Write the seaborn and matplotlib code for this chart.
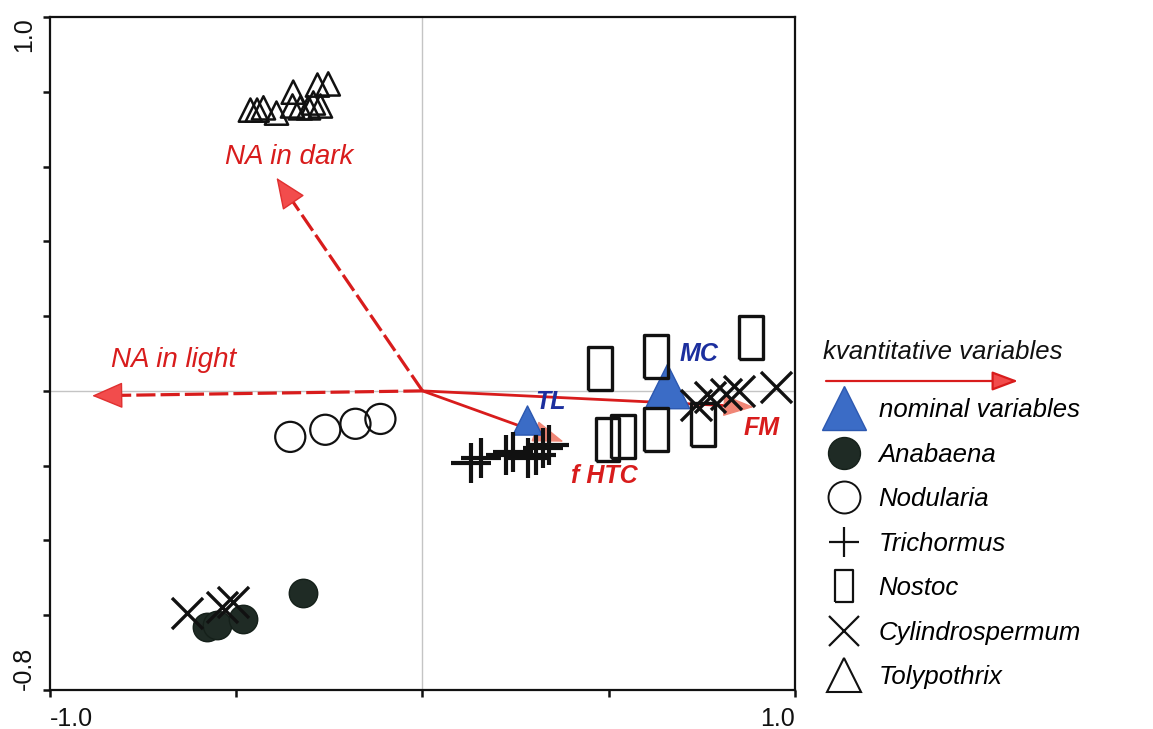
import numpy as np
import matplotlib
matplotlib.use("Agg")
import matplotlib.pyplot as plt
import seaborn as sns
from matplotlib.lines import Line2D

# ---------------- data ----------------
anabaena_x = [-0.578, -0.551, -0.481, -0.320]
anabaena_y = [-0.631, -0.626, -0.610, -0.540]
nodularia_x = [-0.355, -0.261, -0.180, -0.113]
nodularia_y = [-0.123, -0.104, -0.088, -0.075]
trichormus_x = [0.129, 0.156, 0.223, 0.242, 0.282, 0.304, 0.323, 0.339]
trichormus_y = [-0.193, -0.179, -0.171, -0.163, -0.179, -0.171, -0.152, -0.144]
nostoc_x = [0.476, 0.626, 0.882, 0.497, 0.538, 0.626, 0.753]
nostoc_y = [0.061, 0.091, 0.142, -0.131, -0.123, -0.104, -0.091]
cylindro_x = [-0.632, -0.538, -0.508, 0.734, 0.772, 0.815, 0.850, 0.949]
cylindro_y = [-0.594, -0.578, -0.564, -0.037, -0.016, -0.008, 0.000, 0.011]
tolypo_x = [-0.462, -0.444, -0.427, -0.392, -0.347, -0.349, -0.328, -0.306,
            -0.282, -0.253, -0.293, -0.274]
tolypo_y = [0.751, 0.751, 0.757, 0.743, 0.799, 0.762, 0.757, 0.757,
            0.818, 0.821, 0.770, 0.762]

quant_names = ["NA in dark", "NA in light", "f HTC", "FM"]
quant_x = [-0.392, -0.887, 0.379, 0.890]
quant_y = [0.570, -0.013, -0.136, -0.043]
quant_dashed = [True, True, False, False]
quant_label_x = [-0.358, -0.669, 0.487, 0.911]
quant_label_y = [0.626, 0.083, -0.227, -0.099]

nominal_names = ["TL", "MC"]
nominal_x = [0.280, 0.656]
nominal_y = [-0.078, 0.013]
nominal_sizes = [441, 1024]
nominal_label_x = [0.344, 0.742]
nominal_label_y = [-0.029, 0.099]

x_ticks = [-1.0, -0.5, 0.0, 0.5, 1.0]
x_ticklabels = ["-1.0", "", "", "", "1.0"]
y_ticks = [-0.8, -0.6, -0.4, -0.2, 0.0, 0.2, 0.4, 0.6, 0.8, 1.0]
y_ticklabels = ["-0.8", "", "", "", "", "", "", "", "", "1.0"]

legend_labels = ["nominal variables", "Anabaena", "Nodularia", "Trichormus",
                 "Nostoc", "Cylindrospermum", "Tolypothrix"]
quant_legend_label = "kvantitative variables"

# ---------------- style ----------------
sns.set_style("white")
plt.rcParams["font.family"] = ["Liberation Sans", "DejaVu Sans"]
plt.rcParams["text.color"] = "black"
plt.rcParams["xtick.color"] = "black"
plt.rcParams["ytick.color"] = "black"

RED = "#d81c1c"
RED_HEAD = "#f24c4c"
SALMON = "#f08676"
BLUE = "#3b6cc6"
BLUE_EDGE = "#2c58b0"
DARKBLUE = "#1c2f9e"
BLACK = "#111111"
DARKFILL = "#1f2b25"

rect_marker = [(-0.55, -1), (0.55, -1), (0.55, 1), (-0.55, 1), (-0.55, -1)]

fig = plt.figure(figsize=(11.53, 7.29), dpi=100)
ax = fig.add_axes([50 / 1153, 39 / 729, 745 / 1153, 673 / 729])

ax.set_xlim(-1.0, 1.0)
ax.set_ylim(-0.8, 1.0)

ax.axhline(0, color="#c4c4c4", lw=1.0, zorder=1)
ax.axvline(0, color="#c4c4c4", lw=1.0, zorder=1)

# ---------------- quantitative arrows ----------------
for name, tx, ty, dashed, lx, ly in zip(quant_names, quant_x, quant_y,
                                          quant_dashed, quant_label_x, quant_label_y):
    if dashed:
        ax.plot([0, tx * 0.96], [0, ty * 0.96], color=RED, lw=2.3,
                linestyle=(0, (6, 1.6)), zorder=2, solid_capstyle="butt")
        fc, ec = RED_HEAD, "#e03030"
        hl, hw = 2.0, 0.85
    else:
        ax.plot([0, tx * 0.96], [0, ty * 0.96], color=RED, lw=2.0, zorder=2)
        fc, ec = SALMON, SALMON
        hl, hw = 2.0, 0.7
    ax.annotate("", xy=(tx, ty), xytext=(tx * 0.97, ty * 0.97),
                arrowprops=dict(arrowstyle=f"-|>,head_length={hl},head_width={hw}",
                                fc=fc, ec=ec, lw=1.0, shrinkA=0, shrinkB=0,
                                mutation_scale=10),
                zorder=2.5)
    if dashed:
        ax.text(lx, ly, name, color=RED, fontsize=20, fontstyle="italic",
                ha="center", va="center", zorder=6)
    else:
        ax.text(lx, ly, name, color=RED, fontsize=18, fontstyle="italic",
                fontweight="bold", ha="center", va="center", zorder=6)

# ---------------- nominal variables ----------------
for name, nx, ny, ns, lx, ly in zip(nominal_names, nominal_x, nominal_y,
                                     nominal_sizes, nominal_label_x, nominal_label_y):
    sns.scatterplot(x=[nx], y=[ny], ax=ax, marker="^", s=ns, color=BLUE,
                    edgecolor=BLUE_EDGE, linewidth=1.0, legend=False, zorder=3)
    ax.text(lx, ly, name, color=DARKBLUE, fontsize=18, fontstyle="italic",
            fontweight="bold", ha="center", va="center", zorder=6)

# ---------------- species ----------------
sns.scatterplot(x=tolypo_x, y=tolypo_y, ax=ax, marker="^", s=280,
                facecolor="none", edgecolor=BLACK, linewidth=1.8,
                legend=False, zorder=4)
sns.scatterplot(x=nodularia_x, y=nodularia_y, ax=ax, marker="o", s=470,
                facecolor="none", edgecolor=BLACK, linewidth=1.6,
                legend=False, zorder=4)
sns.scatterplot(x=anabaena_x, y=anabaena_y, ax=ax, marker="o", s=420,
                color=DARKFILL, edgecolor="#15201a", linewidth=1.0,
                legend=False, zorder=4)
sns.scatterplot(x=trichormus_x, y=trichormus_y, ax=ax, marker="+", s=850,
                color=BLACK, linewidth=3.0, legend=False, zorder=4)
sns.scatterplot(x=nostoc_x, y=nostoc_y, ax=ax, marker=rect_marker, s=960,
                facecolor="none", edgecolor=BLACK, linewidth=2.4,
                legend=False, zorder=4)
sns.scatterplot(x=cylindro_x, y=cylindro_y, ax=ax, marker="x", s=500,
                color=BLACK, linewidth=2.4, legend=False, zorder=4)

# ---------------- axes styling ----------------
ax.set_xticks(x_ticks)
ax.set_xticklabels(x_ticklabels)
ax.set_yticks(y_ticks)
ax.set_yticklabels(y_ticklabels, rotation=90)
ax.tick_params(axis="both", direction="out", length=5, width=1.8,
               colors=BLACK, labelsize=18, left=True, bottom=True)
ax.tick_params(axis="x", pad=7)
ax.tick_params(axis="y", pad=5)
xl = ax.get_xticklabels()
xl[0].set_ha("left")
xl[-1].set_ha("right")
yl = ax.get_yticklabels()
yl[0].set_va("bottom")
yl[-1].set_va("top")
for sp in ax.spines.values():
    sp.set_visible(True)
    sp.set_color(BLACK)
    sp.set_linewidth(1.6)
ax.set_xlabel("")
ax.set_ylabel("")

# ---------------- legend ----------------
fig.text(823 / 1153, 1 - 352 / 729, quant_legend_label, fontsize=18.5,
         fontstyle="italic", ha="left", va="center", color=BLACK)
fig.add_artist(matplotlib.patches.FancyArrowPatch(
    (826 / 1153, 1 - 381 / 729), (1018 / 1153, 1 - 381 / 729),
    transform=fig.transFigure, arrowstyle="-|>,head_length=1.6,head_width=0.6",
    mutation_scale=10, color=RED, fc=RED_HEAD, lw=1.6, shrinkA=0, shrinkB=0))

handles = [
    Line2D([], [], linestyle="none", marker="^", markersize=32,
           markerfacecolor=BLUE, markeredgecolor=BLUE_EDGE, markeredgewidth=1.0),
    Line2D([], [], linestyle="none", marker="o", markersize=23,
           markerfacecolor=DARKFILL, markeredgecolor="#15201a", markeredgewidth=1.0),
    Line2D([], [], linestyle="none", marker="o", markersize=23,
           markerfacecolor="none", markeredgecolor=BLACK, markeredgewidth=1.4),
    Line2D([], [], linestyle="none", marker="+", markersize=22,
           markeredgecolor=BLACK, markeredgewidth=1.6),
    Line2D([], [], linestyle="none", marker=rect_marker, markersize=23,
           markerfacecolor="none", markeredgecolor=BLACK, markeredgewidth=1.6),
    Line2D([], [], linestyle="none", marker="x", markersize=22,
           markeredgecolor=BLACK, markeredgewidth=1.6),
    Line2D([], [], linestyle="none", marker="^", markersize=24,
           markerfacecolor="none", markeredgecolor=BLACK, markeredgewidth=1.5),
]
leg = fig.legend(handles, legend_labels, loc="upper left",
                 bbox_to_anchor=(826 / 1153, 1 - 398 / 729),
                 frameon=False, fontsize=18.5, handlelength=1.4,
                 handletextpad=0.65, labelspacing=0.8, borderpad=0,
                 borderaxespad=0)
for t in leg.get_texts():
    t.set_fontstyle("italic")
    t.set_color("black")

fig.savefig("out.png", dpi=100)
